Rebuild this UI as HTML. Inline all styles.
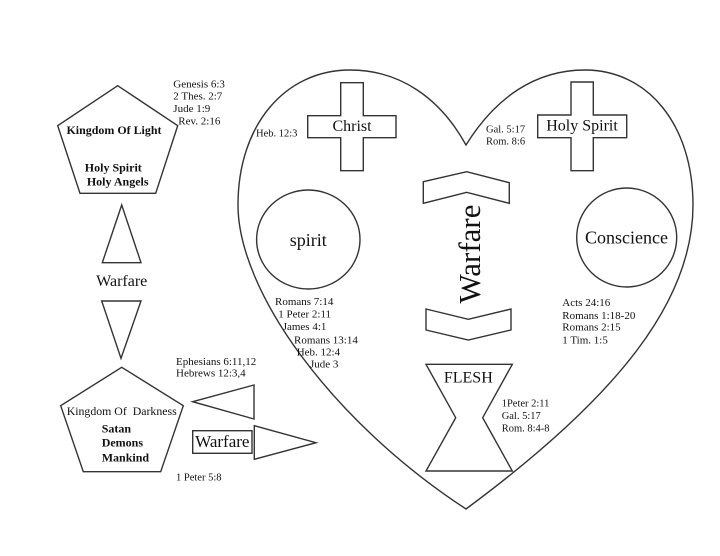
<!DOCTYPE html>
<html>
<head>
<meta charset="utf-8">
<style>
html,body{margin:0;padding:0;background:#fff;}
svg{display:block;}
text{font-family:"Liberation Serif","Times New Roman",serif;fill:#111;}
</style>
</head>
<body>
<svg width="720" height="556" viewBox="0 0 720 556" xmlns="http://www.w3.org/2000/svg">
<rect width="720" height="556" fill="#fff"/>
<g fill="none" stroke="#333" stroke-width="1.4" stroke-linejoin="miter">
  <!-- Heart -->
  <path d="M466,145 C440,98 400,70 350,70 C285,70 238,125 238,205 C238,290 330,420 466,509 C620,395 693,300 693,205 C693,125 648,70 585,70 C535,70 495,98 466,145 Z"/>
  <!-- Kingdom of Light pentagon -->
  <polygon points="117.7,85.7 177.7,125.7 155.7,193.3 80,193.3 57.7,125.7"/>
  <!-- Kingdom of Darkness pentagon -->
  <polygon points="121.7,367.3 183.3,405.7 160.7,471.7 83.3,471.7 60.7,405.7"/>
  <!-- Left triangles -->
  <polygon points="121.7,205 141,262.7 102.3,262.7"/>
  <polygon points="101.7,301 141,301 121,358.3"/>
  <!-- Left pointing triangle -->
  <polygon points="192.7,401.7 254,385 254,419"/>
  <!-- Warfare box -->
  <rect x="192.7" y="430.7" width="59.3" height="22.6"/>
  <!-- Right pointing triangle -->
  <polygon points="254.3,425.7 316,442.7 254.3,459.3"/>
  <!-- Christ cross -->
  <polygon points="340.7,82.7 363.3,82.7 363.3,115.7 396,115.7 396,137.7 363.3,137.7 363.3,170.7 340.7,170.7 340.7,137.7 307.7,137.7 307.7,115.7 340.7,115.7"/>
  <!-- Holy Spirit cross -->
  <polygon points="571,82 593.3,82 593.3,115 626.7,115 626.7,137.7 593.3,137.7 593.3,170.7 571,170.7 571,137.7 537.7,137.7 537.7,115 571,115"/>
  <!-- circles -->
  <ellipse cx="308.3" cy="239.5" rx="51.7" ry="49.5"/>
  <ellipse cx="626.7" cy="237.5" rx="50" ry="49.5"/>
  <!-- chevrons -->
  <polygon points="423.3,181.7 466.7,171.7 509.3,182.7 509.3,203.3 466.7,192.3 423.3,203.3"/>
  <polygon points="426,309 468.3,319.3 511,309 511,330 468.3,340 426,330"/>
  <!-- FLESH hourglass -->
  <polygon points="426,364.3 512.3,364.3 482.7,417.7 512.3,471 426,471 455.7,417.7"/>
</g>

<!-- Left side text -->
<g font-size="11">
  <text x="173.3" y="87.5">Genesis 6:3</text>
  <text x="173.3" y="99.5">2 Thes. 2:7</text>
  <text x="173.3" y="112">Jude 1:9</text>
  <text x="178.3" y="124.5">Rev. 2:16</text>
</g>
<text x="114" y="134" font-size="11.5" font-weight="bold" text-anchor="middle" textLength="95" lengthAdjust="spacingAndGlyphs">Kingdom Of Light</text>
<text x="113.3" y="171.7" font-size="12" font-weight="bold" text-anchor="middle">Holy Spirit</text>
<text x="117.7" y="185.7" font-size="12" font-weight="bold" text-anchor="middle">Holy Angels</text>

<text x="121.7" y="286" font-size="16" text-anchor="middle">Warfare</text>

<g font-size="11">
  <text x="176" y="365">Ephesians 6:11,12</text>
  <text x="176" y="376.5">Hebrews 12:3,4</text>
</g>
<text x="66.7" y="415" font-size="12" textLength="110" lengthAdjust="spacingAndGlyphs" xml:space="preserve">Kingdom Of  Darkness</text>
<g font-size="12" font-weight="bold">
  <text x="101.7" y="432.7">Satan</text>
  <text x="101.7" y="446.7">Demons</text>
  <text x="101.7" y="461.7">Mankind</text>
</g>
<text x="222.3" y="447" font-size="17" text-anchor="middle">Warfare</text>
<text x="176" y="480.5" font-size="10.5">1 Peter 5:8</text>

<!-- Heart text -->
<text x="256" y="136.7" font-size="10.5">Heb. 12:3</text>
<text x="352" y="131" font-size="16" text-anchor="middle">Christ</text>
<text x="582" y="130.5" font-size="16" text-anchor="middle">Holy Spirit</text>
<g font-size="10.5">
  <text x="486" y="132.5">Gal. 5:17</text>
  <text x="486" y="144.5">Rom. 8:6</text>
</g>
<text x="308.3" y="246" font-size="18" text-anchor="middle">spirit</text>
<text x="626.5" y="243.5" font-size="18" text-anchor="middle">Conscience</text>

<text transform="translate(480,254) rotate(-90)" x="0" y="0" font-size="31" text-anchor="middle">Warfare</text>

<g font-size="11">
  <text x="275" y="305">Romans 7:14</text>
  <text x="278.3" y="317.7">1 Peter 2:11</text>
  <text x="282.7" y="330">James 4:1</text>
  <text x="294" y="343.3">Romans 13:14</text>
  <text x="296.7" y="355.7">Heb. 12:4</text>
  <text x="310" y="367.7">Jude 3</text>
</g>
<g font-size="11">
  <text x="562.3" y="306">Acts 24:16</text>
  <text x="562.3" y="319">Romans 1:18-20</text>
  <text x="562.3" y="330.7">Romans 2:15</text>
  <text x="562.3" y="343.3">1 Tim. 1:5</text>
</g>
<text x="468.3" y="382.7" font-size="16" text-anchor="middle">FLESH</text>
<g font-size="10.5">
  <text x="501.7" y="406.7">1Peter 2:11</text>
  <text x="501.7" y="419">Gal. 5:17</text>
  <text x="501.7" y="431.7">Rom. 8:4-8</text>
</g>
</svg>
</body>
</html>
